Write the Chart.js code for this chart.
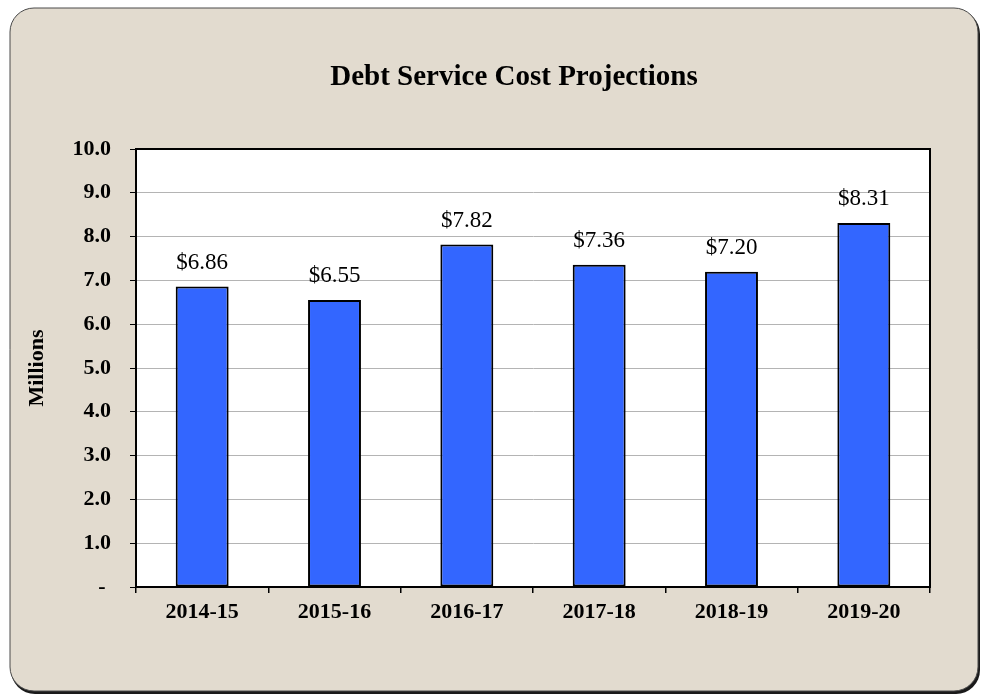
<!DOCTYPE html>
<html>
<head>
<meta charset="utf-8">
<title>Debt Service Cost Projections</title>
<script src="https://cdn.jsdelivr.net/npm/chart.js@4/dist/chart.umd.min.js"></script>
<style>
    html, body { margin: 0; padding: 0; background: #ffffff; }
    #wrap { width: 982px; height: 696px; }
</style>
</head>
<body>
<div id="wrap"><canvas id="debtChart" width="982" height="696"></canvas></div>
<script>
    'use strict';

    // fiscal years and debt service cost (millions of dollars)
    var fiscalYears = ['2014-15', '2015-16', '2016-17', '2017-18', '2018-19', '2019-20'];
    var debtService = [6.86, 6.55, 7.82, 7.36, 7.20, 8.31];
    var yAxisMin = 0;
    var yAxisMax = 10;
    var yAxisStep = 1;

    var serif = "'Times New Roman', 'Liberation Serif', serif";

    // beige card with rounded corners behind everything, white plot area
    var cardBackground = {
        id: 'cardBackground',
        beforeDraw: function (chart) {
            var ctx = chart.ctx;
            var area = chart.chartArea;
            ctx.save();
            ctx.fillStyle = '#ffffff';
            ctx.fillRect(0, 0, chart.width, chart.height);

            ctx.fillStyle = '#1a1a1a';
            ctx.beginPath();
            ctx.roundRect(11, 10, 969, 684, 24);
            ctx.fill();

            ctx.fillStyle = '#e2dbcf';
            ctx.strokeStyle = '#4a4a4a';
            ctx.lineWidth = 1;
            ctx.beginPath();
            ctx.roundRect(10, 8, 968, 683, 24);
            ctx.fill();
            ctx.stroke();

            ctx.fillStyle = '#ffffff';
            ctx.fillRect(area.left, area.top, area.right - area.left, area.bottom - area.top);
            ctx.restore();
        }
    };

    // black frame round the plot and the dollar labels over each bar
    var plotFrame = {
        id: 'plotFrame',
        afterDatasetsDraw: function (chart) {
            var ctx = chart.ctx;
            var area = chart.chartArea;
            ctx.save();
            ctx.strokeStyle = '#000000';
            ctx.lineWidth = 2;
            ctx.strokeRect(area.left, area.top, area.right - area.left, area.bottom - area.top);

            ctx.fillStyle = '#000000';
            ctx.font = '23px ' + serif;
            ctx.textAlign = 'center';
            ctx.textBaseline = 'middle';
            chart.getDatasetMeta(0).data.forEach(function (bar, i) {
                var value = chart.data.datasets[0].data[i];
                ctx.fillText('$' + value.toFixed(2), bar.x, bar.y - 24);
            });
            ctx.restore();
        }
    };

    new Chart(document.getElementById('debtChart'), {
        type: 'bar',
        data: {
            labels: fiscalYears,
            datasets: [{
                label: 'Debt Service',
                data: debtService,
                backgroundColor: '#3366ff',
                borderColor: '#000000',
                borderWidth: 2,
                borderSkipped: false,
                barPercentage: 0.4,
                categoryPercentage: 1.0
            }]
        },
        options: {
            responsive: false,
            animation: false,
            devicePixelRatio: 1,
            layout: {
                padding: { left: 46, right: 0, top: 0, bottom: 0 }
            },
            plugins: {
                legend: { display: false },
                tooltip: { enabled: false },
                title: {
                    display: true,
                    text: 'Debt Service Cost Projections',
                    color: '#000000',
                    font: { family: serif, size: 29, weight: 'bold' },
                    padding: { top: 60.6, bottom: 53.6 }
                }
            },
            scales: {
                x: {
                    grid: {
                        display: true,
                        offset: true,
                        drawOnChartArea: false,
                        drawTicks: true,
                        tickLength: 6,
                        tickColor: '#000000',
                        lineWidth: 1.5
                    },
                    border: { display: true, color: '#000000', width: 2 },
                    ticks: {
                        color: '#000000',
                        padding: 6,
                        maxRotation: 0,
                        font: { family: serif, size: 22, weight: 'bold' }
                    },
                    afterFit: function (scale) {
                        scale.height = 109;
                    }
                },
                y: {
                    min: yAxisMin,
                    max: yAxisMax,
                    grid: {
                        color: '#b4b4b4',
                        lineWidth: 1,
                        drawTicks: true,
                        tickLength: 6,
                        tickColor: '#000000'
                    },
                    border: { display: true, color: '#000000', width: 2 },
                    ticks: {
                        stepSize: yAxisStep,
                        color: '#000000',
                        padding: 19,
                        font: { family: serif, size: 22, weight: 'bold' },
                        callback: function (value) {
                            return value === 0 ? '- ' : value.toFixed(1);
                        }
                    },
                    title: {
                        display: true,
                        text: 'Millions',
                        color: '#000000',
                        font: { family: serif, size: 22, weight: 'bold' },
                        padding: { top: -22, bottom: 0 }
                    },
                    afterFit: function (scale) {
                        scale.width = 90;
                    }
                },
                // empty strip on the right so the plot ends short of the card edge
                yRight: {
                    position: 'right',
                    display: true,
                    grid: { display: false, drawTicks: false },
                    border: { display: false },
                    ticks: { display: false },
                    afterFit: function (scale) {
                        scale.width = 52;
                    }
                }
            }
        },
        plugins: [cardBackground, plotFrame]
    });
</script>
</body>
</html>
